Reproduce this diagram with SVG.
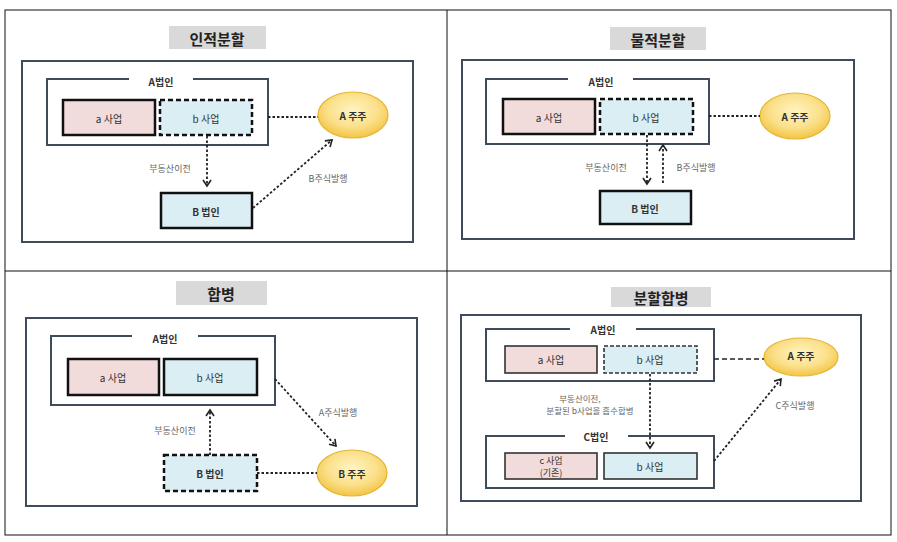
<svg xmlns="http://www.w3.org/2000/svg" width="897" height="542" viewBox="0 0 897 542">
<defs>
<radialGradient id="yel" cx="50%" cy="40%" r="60%">
<stop offset="0" stop-color="#fff4c2"/>
<stop offset="0.6" stop-color="#fbe08a"/>
<stop offset="1" stop-color="#f2c444"/>
</radialGradient>
<marker id="arr" markerWidth="12" markerHeight="12" refX="7" refY="5" orient="auto" markerUnits="userSpaceOnUse">
<path d="M1,1 L7,5 L1,9" fill="none" stroke="#222" stroke-width="1.6"/>
</marker>
</defs>
<style>
text{font-family:"Noto Sans CJK KR","Noto Sans",sans-serif;text-anchor:middle;dominant-baseline:central}
.title{font-size:15px;font-weight:bold;fill:#222}
.tbox{fill:#d9d9d9}
.frame{fill:#fff;stroke:#3e4b5b;stroke-width:2}
.corp{fill:none;stroke:#3e4b5b;stroke-width:2}
.clab{font-size:10px;font-weight:bold;fill:#333}
.pink{fill:#f2dcdb;stroke:#111;stroke-width:2.5}
.blue{fill:#daeef3;stroke:#111;stroke-width:2.5}
.blued{fill:#daeef3;stroke:#111;stroke-width:2.5;stroke-dasharray:5 3}
.pink2{fill:#f2dcdb;stroke:#333;stroke-width:1.6}
.blue2{fill:#daeef3;stroke:#333;stroke-width:1.6}
.blued2{fill:#daeef3;stroke:#333;stroke-width:1.6;stroke-dasharray:4 2}
.nlab{font-size:10px;fill:#333}
.nlabs{font-size:9px;fill:#333}
.nlabb{font-size:10px;font-weight:bold;fill:#333}
.sh{fill:url(#yel);stroke:#e5b532;stroke-width:1.2}
.dot{fill:none;stroke:#222;stroke-width:1.8;stroke-dasharray:2.5 2}
.dash{fill:none;stroke:#222;stroke-width:1.3;stroke-dasharray:5 3}
.elab{font-size:9px;fill:#666}
.elabs{font-size:8.5px;fill:#666}
.grid{fill:none;stroke:#111;stroke-width:1}
</style>
<rect x="0" y="0" width="897" height="542" fill="#fff"/>
<g id="grid">
<rect class="grid" x="5" y="10" width="886" height="525"/>
<line class="grid" x1="447" y1="10" x2="447" y2="535"/>
<line class="grid" x1="5" y1="271" x2="891" y2="271"/>
</g>

<!-- Quadrant 1: 인적분할 -->
<g id="q1-title"><rect class="tbox" x="169" y="26" width="97" height="23"/><text class="title" x="217" y="38">인적분할</text></g>
<g id="q1-frame"><rect class="frame" x="22" y="61" width="391" height="181"/></g>
<g id="q1-Acorp"><path class="corp" d="M129,79 H47 V145 H268 V79 H193"/><text class="clab" x="161" y="81">A법인</text></g>
<g id="q1-a"><rect class="pink" x="63" y="100" width="92" height="35"/><text class="nlab" x="109" y="118">a 사업</text></g>
<g id="q1-b"><rect class="blued" x="160" y="100" width="92" height="35"/><text class="nlab" x="206" y="118">b 사업</text></g>
<g id="q1-Ash"><ellipse class="sh" cx="353" cy="115" rx="35" ry="23"/><text class="nlabb" x="353" y="115">A 주주</text></g>
<g id="q1-Bcorp"><rect class="blue" x="161" y="193" width="91" height="35"/><text class="nlabb" x="206" y="211">B 법인</text></g>

<!-- Quadrant 2: 물적분할 -->
<g id="q2-title"><rect class="tbox" x="610" y="27" width="96" height="23"/><text class="title" x="658" y="39">물적분할</text></g>
<g id="q2-frame"><rect class="frame" x="462" y="60" width="392" height="179"/></g>
<g id="q2-Acorp"><path class="corp" d="M568,79 H486 V144 H709 V79 H633"/><text class="clab" x="601" y="81">A법인</text></g>
<g id="q2-a"><rect class="pink" x="503" y="99" width="92" height="35"/><text class="nlab" x="549" y="117">a 사업</text></g>
<g id="q2-b"><rect class="blued" x="600" y="99" width="93" height="35"/><text class="nlab" x="646" y="117">b 사업</text></g>
<g id="q2-Ash"><ellipse class="sh" cx="795" cy="116" rx="35" ry="23"/><text class="nlabb" x="795" y="116">A 주주</text></g>
<g id="q2-Bcorp"><rect class="blue" x="600" y="191" width="91" height="33"/><text class="nlabb" x="645" y="208">B 법인</text></g>

<!-- Quadrant 3: 합병 -->
<g id="q3-title"><rect class="tbox" x="176" y="281" width="91" height="24"/><text class="title" x="221" y="293">합병</text></g>
<g id="q3-frame"><rect class="frame" x="26" y="318" width="391" height="188"/></g>
<g id="q3-Acorp"><path class="corp" d="M132,336 H51 V405 H275 V336 H198"/><text class="clab" x="165" y="338">A법인</text></g>
<g id="q3-a"><rect class="pink" x="68" y="359" width="91" height="36"/><text class="nlab" x="113" y="377">a 사업</text></g>
<g id="q3-b"><rect class="blue" x="164" y="359" width="93" height="36"/><text class="nlab" x="210" y="377">b 사업</text></g>
<g id="q3-Bcorp"><rect class="blued" x="164" y="455" width="93" height="36"/><text class="nlabb" x="210" y="473">B 법인</text></g>
<g id="q3-Bsh"><ellipse class="sh" cx="352" cy="473" rx="35" ry="23"/><text class="nlabb" x="352" y="473">B 주주</text></g>

<!-- Quadrant 4: 분할합병 -->
<g id="q4-title"><rect class="tbox" x="611" y="287" width="100" height="20"/><text class="title" x="661" y="297">분할합병</text></g>
<g id="q4-frame"><rect class="frame" x="461" y="315" width="400" height="186"/></g>
<g id="q4-Acorp"><path class="corp" d="M570,329 H486 V381 H714 V329 H636"/><text class="clab" x="603" y="329">A법인</text></g>
<g id="q4-a"><rect class="pink2" x="505" y="346" width="92" height="27"/><text class="nlab" x="551" y="359">a 사업</text></g>
<g id="q4-b"><rect class="blued2" x="604" y="346" width="93" height="27"/><text class="nlab" x="650" y="359">b 사업</text></g>
<g id="q4-Ash"><ellipse class="sh" cx="801" cy="357" rx="37" ry="19"/><text class="nlabb" x="801" y="355">A 주주</text></g>
<g id="q4-Ccorp"><path class="corp" d="M565,436 H486 V488 H714 V436 H628"/><text class="clab" x="596" y="436">C법인</text></g>
<g id="q4-c"><rect class="pink2" x="505" y="453" width="92" height="26"/><text class="nlabs" x="551" y="460">c 사업</text><text class="nlabs" x="551" y="472">(기존)</text></g>
<g id="q4-b2"><rect class="blue2" x="604" y="453" width="93" height="26"/><text class="nlab" x="650" y="466">b 사업</text></g>

<g id="connectors">
<!-- q1 -->
<line class="dot" x1="268" y1="117" x2="318" y2="117"/>
<line class="dot" x1="207" y1="136" x2="207" y2="186" marker-end="url(#arr)"/>
<line class="dot" x1="253" y1="208" x2="332" y2="140" marker-end="url(#arr)"/>
<!-- q2 -->
<line class="dot" x1="709" y1="116" x2="760" y2="116"/>
<line class="dot" x1="647" y1="135" x2="647" y2="184" marker-end="url(#arr)"/>
<line class="dot" x1="663" y1="183" x2="663" y2="145" marker-end="url(#arr)"/>
<!-- q3 -->
<line class="dot" x1="210" y1="455" x2="210" y2="410" marker-end="url(#arr)"/>
<line class="dot" x1="257" y1="473" x2="317" y2="473"/>
<line class="dot" x1="275" y1="379" x2="336" y2="446" marker-end="url(#arr)"/>
<!-- q4 -->
<line class="dash" x1="714" y1="359" x2="764" y2="359"/>
<line class="dot" x1="650" y1="374" x2="650" y2="448" marker-end="url(#arr)"/>
<line class="dot" x1="714" y1="461" x2="781" y2="379" marker-end="url(#arr)"/>
</g>

<g id="edge-labels">
<text class="elab" x="170" y="168">부동산이전</text>
<text class="elab" x="328" y="178">B주식발행</text>
<text class="elab" x="606" y="167">부동산이전</text>
<text class="elab" x="696" y="167">B주식발행</text>
<text class="elab" x="175" y="430">부동산이전</text>
<text class="elab" x="338" y="412">A주식발행</text>
<text class="elabs" x="580" y="398">부동산이전,</text>
<text class="elabs" x="590" y="410">분할된 b사업을 흡수합병</text>
<text class="elab" x="795" y="405">C주식발행</text>
</g>
</svg>
